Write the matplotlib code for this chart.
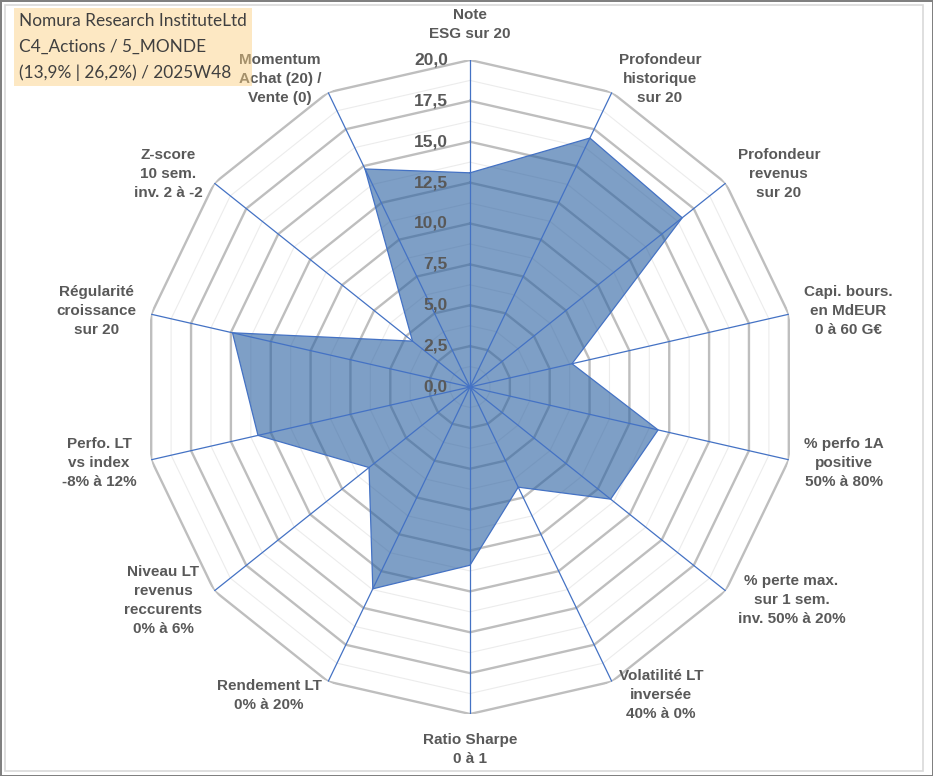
import numpy as np
import matplotlib
matplotlib.use('Agg')
import matplotlib.pyplot as plt
from matplotlib.patches import Rectangle

# axes of the radar, clockwise from the top
categories = [
    "Note\nESG sur 20",
    "Profondeur\nhistorique\nsur 20",
    "Profondeur\nrevenus\nsur 20",
    "Capi. bours.\nen MdEUR\n0 à 60 G€",
    "% perfo 1A\npositive\n50% à 80%",
    "% perte max.\nsur 1 sem.\ninv. 50% à 20%",
    "Volatilité LT\ninversée\n40% à 0%",
    "Ratio Sharpe\n0 à 1",
    "Rendement LT\n0% à 20%",
    "Niveau LT\nrevenus\nreccurents\n0% à 6%",
    "Perfo. LT\nvs index\n-8% à 12%",
    "Régularité\ncroissance\nsur 20",
    "Z-score\n10 sem.\ninv. 2 à -2",
    "Momentum\nAchat (20) /\nVente (0)",
]
scores = [13.1, 16.9, 16.6, 6.4, 11.8, 11.0, 6.8, 10.9, 13.7, 7.9, 13.3, 14.9, 4.5, 14.8]
major_ticks = [0.0, 2.5, 5.0, 7.5, 10.0, 12.5, 15.0, 17.5, 20.0]
minor_ticks = [1.25, 3.75, 6.25, 8.75, 11.25, 13.75, 16.25, 18.75]
title_lines = ["Nomura Research InstituteLtd", "C4_Actions / 5_MONDE", "(13,9% | 26,2%) / 2025W48"]

r_max = 20.0
n = len(categories)
theta = np.linspace(0, 2 * np.pi, n, endpoint=False)
theta_c = np.append(theta, theta[0])

fig = plt.figure(figsize=(9.33, 7.76), dpi=100, facecolor='white',
                 edgecolor='#808080', linewidth=2)
# centre (470, 387) px, radius 327 px
ax = fig.add_axes([143 / 933, 1 - 714 / 776, 654 / 933, 654 / 776], projection='polar')
ax.set_theta_zero_location('N')
ax.set_theta_direction(-1)
ax.set_ylim(0, r_max)
ax.set_axis_off()

# polygon grid
for lv in minor_ticks:
    ax.plot(theta_c, [lv] * (n + 1), color='#ECECEC', lw=0.8, zorder=1)
for lv in major_ticks[1:]:
    ax.plot(theta_c, [lv] * (n + 1), color='#BEBEBE', lw=1.7, zorder=1.1)

# data
vals = np.append(scores, scores[0])
ax.fill(theta_c, vals, facecolor='#2F64A3', alpha=0.62, edgecolor='none', zorder=2)
ax.plot(theta_c, vals, color='#4472C4', lw=0.9, zorder=2.5)

# spokes
for t in theta:
    ax.plot([t, t], [0, r_max], color='#4472C4', lw=0.9, zorder=3)

# radial tick labels along the top spoke
for lv in major_ticks:
    ax.annotate(f"{lv:.1f}".replace('.', ','), xy=(0, lv), xytext=(-16, 0),
                textcoords='offset points', ha='right', va='center',
                fontsize=12.5, fontweight='bold', color='#595959',
                family='Liberation Sans', zorder=4, annotation_clip=False)

# category labels
for t, lab in zip(theta, categories):
    s, c = np.sin(t), np.cos(t)
    if abs(s) < 0.1:
        ha = 'center'
        va = 'bottom' if c > 0 else 'top'
        off = 13.5
    else:
        ha = 'left' if s > 0 else 'right'
        va = 'center'
        off = 11
    ax.annotate(lab, xy=(t, r_max), xytext=(off * s, off * c),
                textcoords='offset points', ha=ha, va=va, multialignment='center',
                fontsize=11, fontweight='bold', color='#595959',
                family='Liberation Sans', linespacing=1.45,
                zorder=4, annotation_clip=False)

# header box
fig.text(19 / 933, 1 - 13 / 776, "\n".join(title_lines), ha='left', va='top',
         fontsize=12.4, family='Lato', color='#404040', linespacing=1.72,
         bbox=dict(boxstyle='square,pad=0.3', facecolor='#FBD080', edgecolor='none', alpha=0.47))

# inner chart frame
fig.patches.append(Rectangle((5 / 933, 5 / 776), 918 / 933, 766 / 776, transform=fig.transFigure,
                             fill=False, edgecolor='#D9D9D9', lw=1.2))

fig.savefig('out.png', dpi=100, facecolor=fig.get_facecolor(), edgecolor=fig.get_edgecolor())
